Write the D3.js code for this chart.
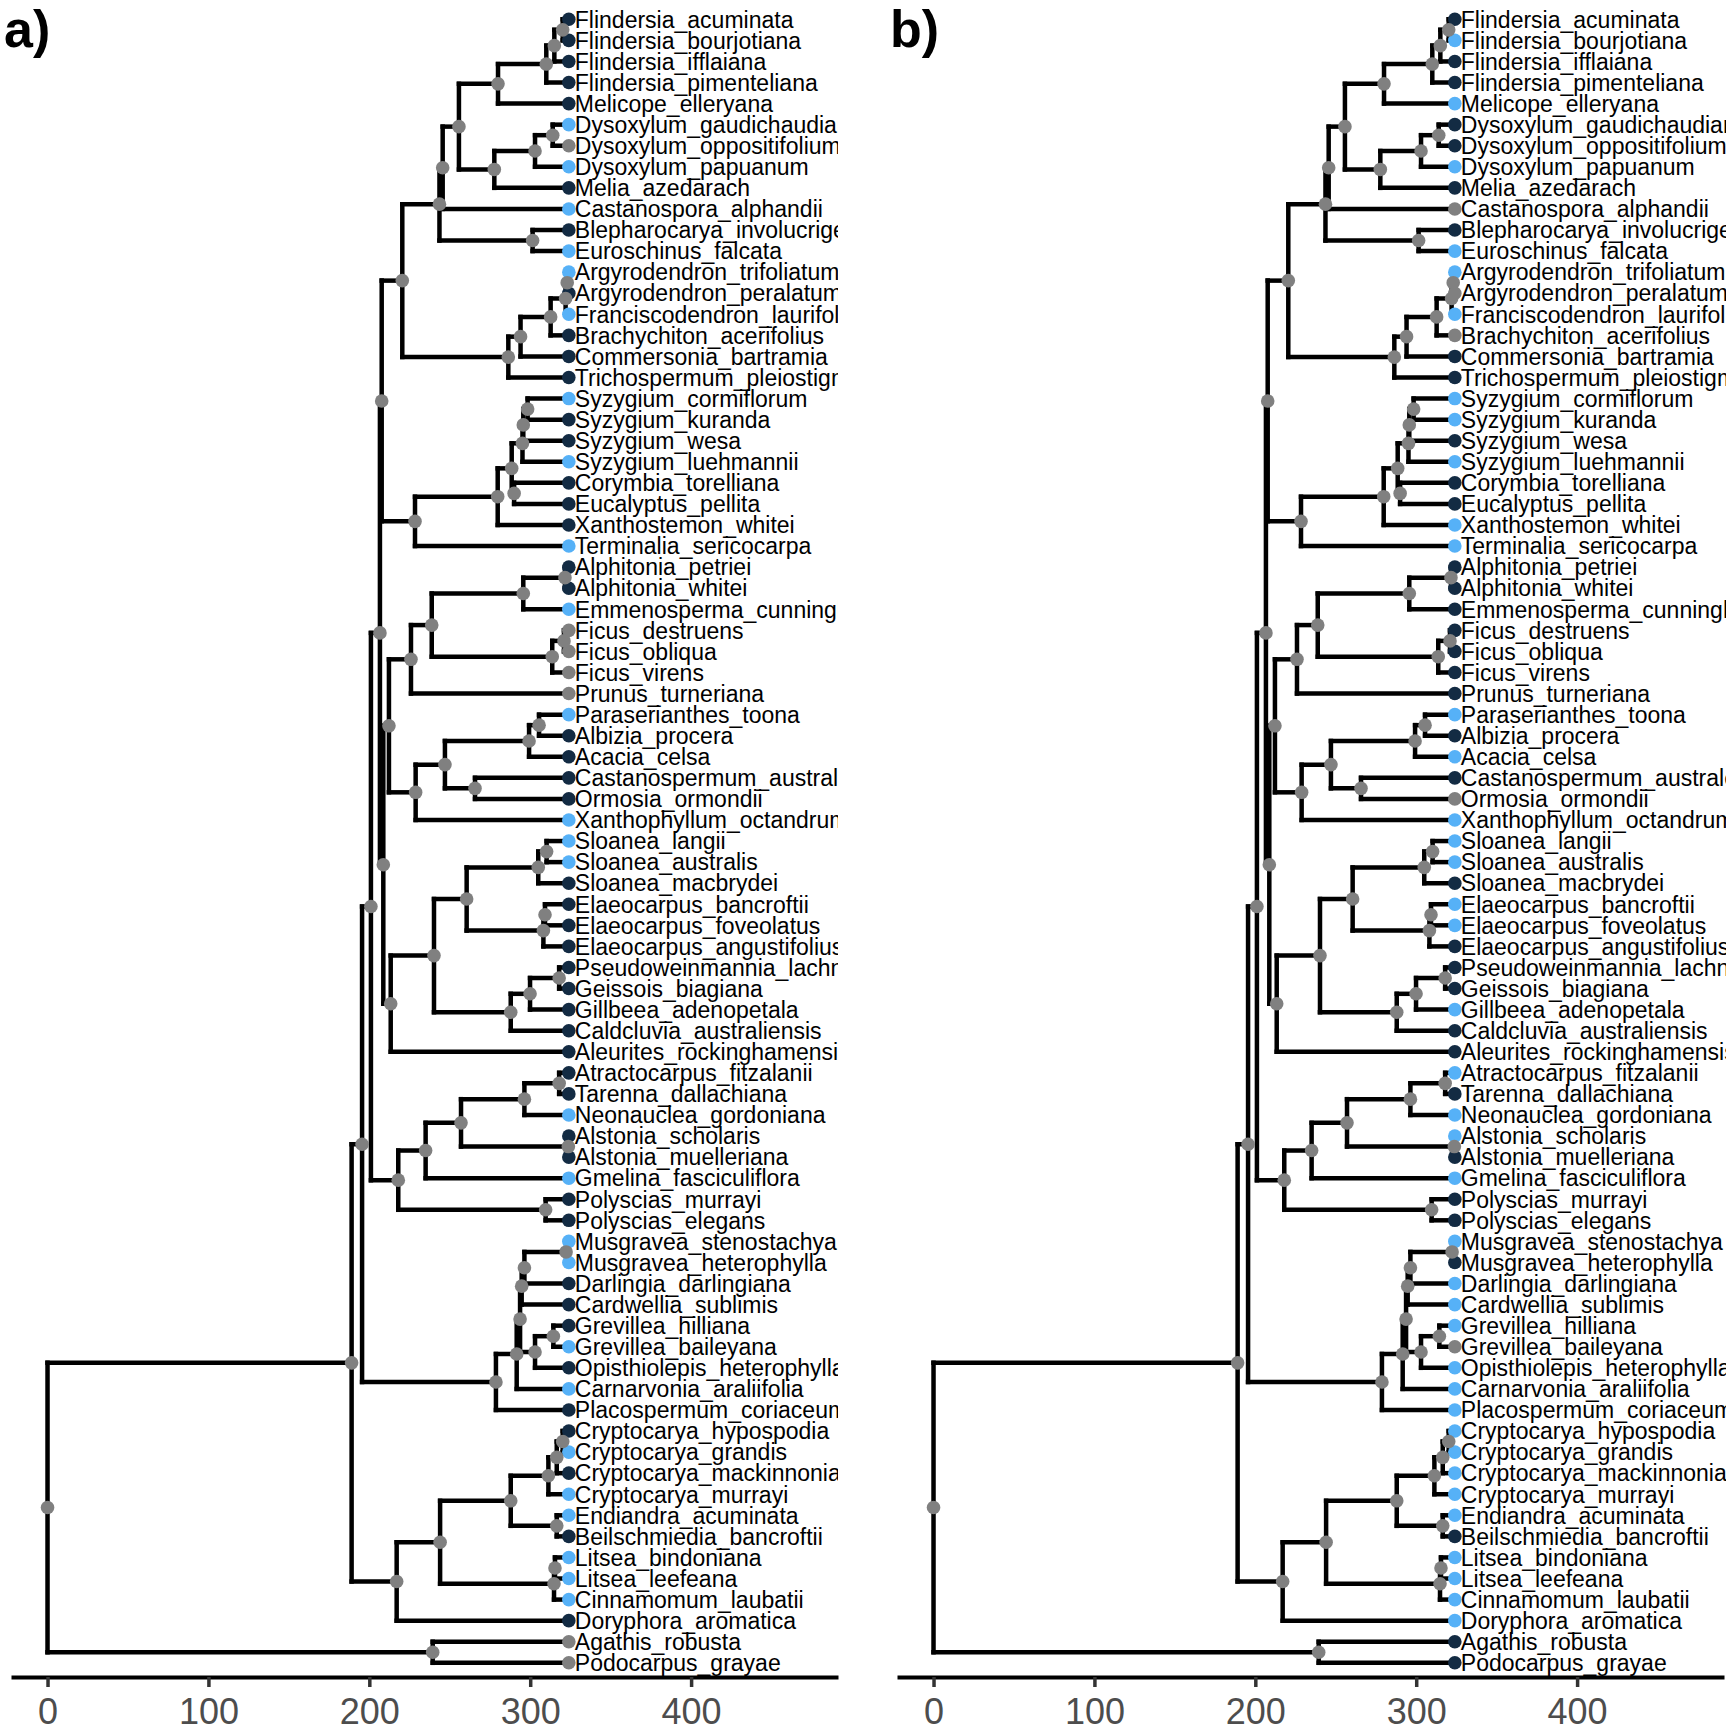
<!DOCTYPE html>
<html><head><meta charset="utf-8">
<script src="https://cdn.jsdelivr.net/npm/d3@7"></script>
<style>body{margin:0;background:#fff}</style>
</head><body>
<svg id="c" width="1728" height="1728" xmlns="http://www.w3.org/2000/svg"></svg>
<script>
// ---------------- DATA ----------------
const tipLabels = [
"Flindersia_acuminata","Flindersia_bourjotiana","Flindersia_ifflaiana","Flindersia_pimenteliana","Melicope_elleryana",
"Dysoxylum_gaudichaudianum","Dysoxylum_oppositifolium","Dysoxylum_papuanum","Melia_azedarach","Castanospora_alphandii",
"Blepharocarya_involucrigera","Euroschinus_falcata","Argyrodendron_trifoliatum","Argyrodendron_peralatum","Franciscodendron_laurifolium",
"Brachychiton_acerifolius","Commersonia_bartramia","Trichospermum_pleiostigma","Syzygium_cormiflorum","Syzygium_kuranda",
"Syzygium_wesa","Syzygium_luehmannii","Corymbia_torelliana","Eucalyptus_pellita","Xanthostemon_whitei",
"Terminalia_sericocarpa","Alphitonia_petriei","Alphitonia_whitei","Emmenosperma_cunninghamii","Ficus_destruens",
"Ficus_obliqua","Ficus_virens","Prunus_turneriana","Paraserianthes_toona","Albizia_procera",
"Acacia_celsa","Castanospermum_australe","Ormosia_ormondii","Xanthophyllum_octandrum","Sloanea_langii",
"Sloanea_australis","Sloanea_macbrydei","Elaeocarpus_bancroftii","Elaeocarpus_foveolatus","Elaeocarpus_angustifolius",
"Pseudoweinmannia_lachnocarpa","Geissois_biagiana","Gillbeea_adenopetala","Caldcluvia_australiensis","Aleurites_rockinghamensis",
"Atractocarpus_fitzalanii","Tarenna_dallachiana","Neonauclea_gordoniana","Alstonia_scholaris","Alstonia_muelleriana",
"Gmelina_fasciculiflora","Polyscias_murrayi","Polyscias_elegans","Musgravea_stenostachya","Musgravea_heterophylla",
"Darlingia_darlingiana","Cardwellia_sublimis","Grevillea_hilliana","Grevillea_baileyana","Opisthiolepis_heterophylla",
"Carnarvonia_araliifolia","Placospermum_coriaceum","Cryptocarya_hypospodia","Cryptocarya_grandis","Cryptocarya_mackinnoniana",
"Cryptocarya_murrayi","Endiandra_acuminata","Beilschmiedia_bancroftii","Litsea_bindoniana","Litsea_leefeana",
"Cinnamomum_laubatii","Doryphora_aromatica","Agathis_robusta","Podocarpus_grayae"];

// trait values per tip: 0 = low, 1 = high, null = NA
const traitA = [0,0,0,0,0, 1,null,1,0,1, 0,1,1,0,1, 0,0,0,1,0, 0,1,0,0,0, 1,0,0,1,null,
  null,null,null,1,0, 0,0,0,1,1, 1,0,0,0,0, 0,0,0,0,0, 0,0,1,0,0, 1,0,0,1,1,
  0,0,0,1,0, 1,0,0,1,0, 1,1,0,1,1, 1,0,null,null];
const traitB = [0,1,0,0,1, 0,0,1,0,null, 0,1,1,null,1, null,0,0,1,1, 0,1,0,0,1, 1,0,0,0,0,
  0,0,0,1,0, 1,0,null,1,1, 1,0,1,1,0, 0,0,1,0,0, 1,0,1,1,0, 1,0,0,1,0,
  1,1,1,null,1, 1,1,1,1,1, 1,1,0,1,1, 1,1,0,0];

const tipAge = 324;
// internal nodes: name, age (time from root), children
const nodeNames = ["fl1","fl2","fl3","rut","dy1","dy2","mel","rm","rmc","ana","sap",
  "ar1","ar2","ar3","ar4","malv","sm","sy1","sy2","sy3","ce","sce","myr","myrt","malvids",
  "al","rha","fi1","fi2","rf","ros","fa1","fa2","fa3","fa4","fab","fr",
  "sl1","sl2","el1","el2","ela","cu1","cu2","cu3","oxa","oa","fabids","rosids",
  "as1","as2","als","gen","lam","pol","ast","core",
  "pr1","pr2","pr3","gr","gro","pr4","pr5","prot","eud",
  "cr1","cr2","cr3","eb","ceb","li1","li2","lau1","lau","ang","con","root"];
const nodeAges = [320.2,315,310,280,314,303,277.7,255.7,245.6,301.5,243.6,
  323,322,312.7,294,286.4,220.5,298.4,295.7,295.2,290,288.5,279.8,228.4,207.7,
  321.6,295.7,321,313.7,238.8,225.9,305.5,299.3,265.7,247,228.8,212.2,
  310.2,305,309.2,308.2,260.5,318,299.9,287.9,240.2,213.3,208.7,206.6,
  318,296.4,323.7,257,235,309.6,218,201,
  322.3,296.4,294.7,314.4,303,293.7,291.6,278.7,195.5,
  320.2,316.5,311.3,316.5,287.9,315.4,314.8,244,217,189,239.4,0];
const nodeChildren = [
  ["Flindersia_acuminata","Flindersia_bourjotiana"],["fl1","Flindersia_ifflaiana"],["fl2","Flindersia_pimenteliana"],["fl3","Melicope_elleryana"],
  ["Dysoxylum_gaudichaudianum","Dysoxylum_oppositifolium"],["dy1","Dysoxylum_papuanum"],["dy2","Melia_azedarach"],["rut","mel"],["rm","Castanospora_alphandii"],
  ["Blepharocarya_involucrigera","Euroschinus_falcata"],["rmc","ana"],
  ["Argyrodendron_trifoliatum","Argyrodendron_peralatum"],["ar1","Franciscodendron_laurifolium"],["ar2","Brachychiton_acerifolius"],["ar3","Commersonia_bartramia"],
  ["ar4","Trichospermum_pleiostigma"],["sap","malv"],
  ["Syzygium_cormiflorum","Syzygium_kuranda"],["sy1","Syzygium_wesa"],["sy2","Syzygium_luehmannii"],["Corymbia_torelliana","Eucalyptus_pellita"],
  ["sy3","ce"],["sce","Xanthostemon_whitei"],["myr","Terminalia_sericocarpa"],["sm","myrt"],
  ["Alphitonia_petriei","Alphitonia_whitei"],["al","Emmenosperma_cunninghamii"],["Ficus_destruens","Ficus_obliqua"],["fi1","Ficus_virens"],
  ["rha","fi2"],["rf","Prunus_turneriana"],["Paraserianthes_toona","Albizia_procera"],["fa1","Acacia_celsa"],
  ["Castanospermum_australe","Ormosia_ormondii"],["fa2","fa3"],["fa4","Xanthophyllum_octandrum"],["ros","fab"],
  ["Sloanea_langii","Sloanea_australis"],["sl1","Sloanea_macbrydei"],["Elaeocarpus_bancroftii","Elaeocarpus_foveolatus"],["el1","Elaeocarpus_angustifolius"],
  ["sl2","el2"],["Pseudoweinmannia_lachnocarpa","Geissois_biagiana"],["cu1","Gillbeea_adenopetala"],["cu2","Caldcluvia_australiensis"],
  ["ela","cu3"],["oxa","Aleurites_rockinghamensis"],["fr","oa"],["malvids","fabids"],
  ["Atractocarpus_fitzalanii","Tarenna_dallachiana"],["as1","Neonauclea_gordoniana"],["Alstonia_scholaris","Alstonia_muelleriana"],["as2","als"],
  ["gen","Gmelina_fasciculiflora"],["Polyscias_murrayi","Polyscias_elegans"],["lam","pol"],["rosids","ast"],
  ["Musgravea_stenostachya","Musgravea_heterophylla"],["pr1","Darlingia_darlingiana"],["pr2","Cardwellia_sublimis"],
  ["Grevillea_hilliana","Grevillea_baileyana"],["gr","Opisthiolepis_heterophylla"],["pr3","gro"],["pr4","Carnarvonia_araliifolia"],
  ["pr5","Placospermum_coriaceum"],["core","prot"],
  ["Cryptocarya_hypospodia","Cryptocarya_grandis"],["cr1","Cryptocarya_mackinnoniana"],["cr2","Cryptocarya_murrayi"],
  ["Endiandra_acuminata","Beilschmiedia_bancroftii"],["cr3","eb"],["Litsea_bindoniana","Litsea_leefeana"],["li1","Cinnamomum_laubatii"],
  ["ceb","li2"],["lau1","Doryphora_aromatica"],["eud","lau"],["Agathis_robusta","Podocarpus_grayae"],["ang","con"]];

const axisTicks = [0,100,200,300,400];
const axisDomain = [-22.7, 491.3];
const panelLabels = ["a)","b)"];
const panelTraits = [traitA, traitB];

// ---------------- DRAW ----------------
const svg = d3.select("#c");
const panelOffsets = [0, 886];
const x = d3.scaleLinear().domain(axisDomain).range([11, 838]);
const y = d3.scalePoint().domain(tipLabels).range([19.3, 1662.8]);
const col = d3.scaleLinear().domain([0,1]).range(["#132B43","#56B1F7"]);
const naCol = "#808080";

// build tree
const nodes = {};
tipLabels.forEach((t,i)=>{ nodes[t] = {name:t, age:tipAge, tip:true, idx:i, children:[]}; });
nodeNames.forEach((n,i)=>{ nodes[n] = {name:n, age:nodeAges[i], tip:false, childNames:nodeChildren[i]}; });
nodeNames.forEach(n=>{ const nd = nodes[n]; nd.children = nd.childNames.map(c=>nodes[c]); nd.children.forEach(c=>c.parent=nd); });
function setY(nd){ if(nd.tip){ nd.y = y(nd.name); return nd.y; } const ys = nd.children.map(setY); nd.y = (d3.min(ys)+d3.max(ys))/2; return nd.y; }
setY(nodes.root);
const all = Object.values(nodes);
const internal = all.filter(d=>!d.tip);
const tips = all.filter(d=>d.tip);

const defs = svg.append("defs");
panelOffsets.forEach((off,pi)=>{
  defs.append("clipPath").attr("id","clip"+pi).append("rect")
    .attr("x",0).attr("y",0).attr("width",pi===0?838:840).attr("height",1728);
});

panelOffsets.forEach((off,pi)=>{
  const g = svg.append("g").attr("transform",`translate(${off},0)`);
  const traits = panelTraits[pi];
  // edges
  const eg = g.append("g").attr("stroke","#000").attr("stroke-width",4.5).attr("stroke-linecap","square").attr("fill","none");
  all.filter(d=>d.parent).forEach(d=>{
    eg.append("line").attr("x1",x(d.parent.age)).attr("x2",x(d.age)).attr("y1",d.y).attr("y2",d.y);
  });
  internal.forEach(d=>{
    const ys = d.children.map(c=>c.y);
    eg.append("line").attr("x1",x(d.age)).attr("x2",x(d.age)).attr("y1",d3.min(ys)).attr("y2",d3.max(ys));
  });
  // tip points
  g.append("g").selectAll("circle").data(tips).join("circle")
    .attr("cx",d=>x(d.age)).attr("cy",d=>d.y).attr("r",6.8)
    .attr("fill",d=>{ const v = traits[d.idx]; return v===null ? naCol : col(v); });
  // internal points
  g.append("g").selectAll("circle").data(internal).join("circle")
    .attr("cx",d=>x(d.age)).attr("cy",d=>d.y).attr("r",6.8).attr("fill",naCol);
  // labels
  g.append("g").attr("clip-path",`url(#clip${pi})`).selectAll("text").data(tips).join("text")
    .attr("x",d=>x(d.age)+6).attr("y",d=>d.y).attr("dy","0.36em")
    .attr("font-family","'Liberation Sans', Arial, sans-serif").attr("font-size",23).attr("fill","#000")
    .text(d=>d.name);
  // axis
  const ax = g.append("g").attr("transform","translate(0,1677)")
    .call(d3.axisBottom(x).tickValues(axisTicks).tickSize(10).tickPadding(11).tickSizeOuter(0));
  ax.select(".domain").attr("stroke","#000").attr("stroke-width",4);
  ax.selectAll(".tick line").attr("stroke","#333").attr("stroke-width",3.5);
  ax.selectAll(".tick text").attr("fill","#4D4D4D").attr("font-size",36)
    .attr("font-family","'Liberation Sans', Arial, sans-serif");
  // panel label
  svg.append("text").attr("x",off+4).attr("y",47).attr("font-family","'Liberation Sans', Arial, sans-serif")
    .attr("font-weight","bold").attr("font-size",52).attr("fill","#000").text(panelLabels[pi]);
});
</script>
</body></html>
